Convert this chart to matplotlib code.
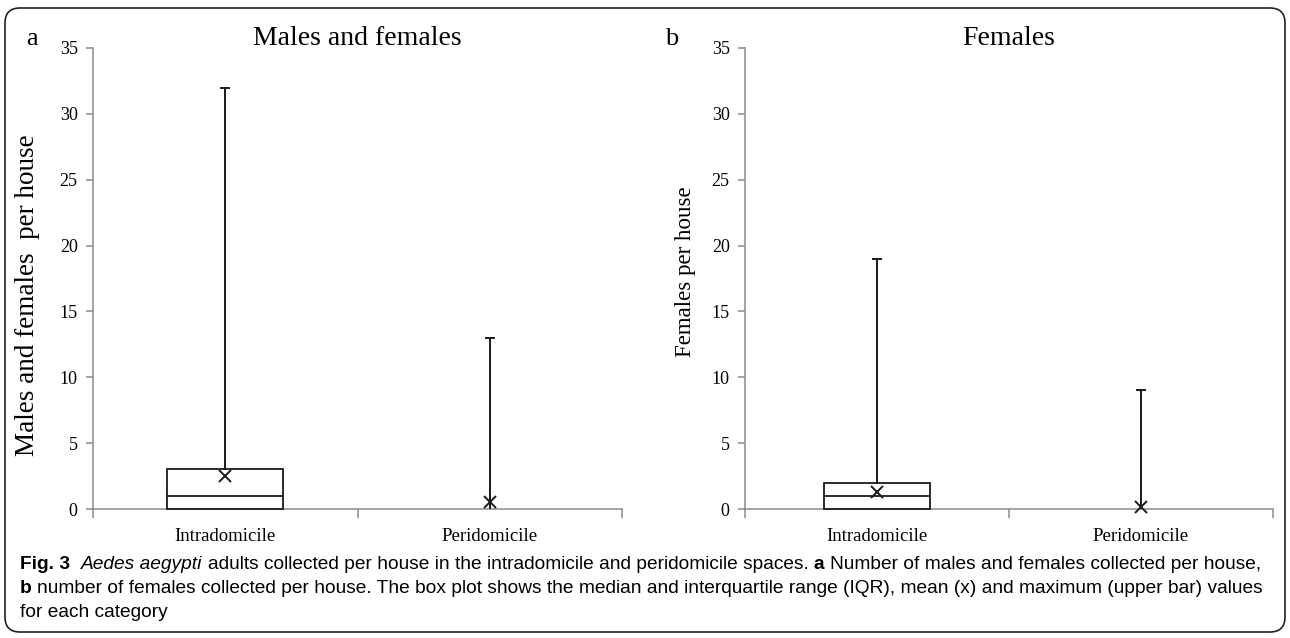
import matplotlib
matplotlib.use('Agg')
import matplotlib.pyplot as plt
from matplotlib.patches import Rectangle, FancyBboxPatch
from matplotlib import font_manager

categories = ['Intradomicile', 'Peridomicile']
yticks = [0, 5, 10, 15, 20, 25, 30, 35]

# panel a: males and females per house
a_q1 = [0, 0]
a_median = [1, 0]
a_q3 = [3, 0]
a_mean = [2.5, 0.5]
a_max = [32, 13]

# panel b: females per house
b_q1 = [0, 0]
b_median = [1, 0]
b_q3 = [2, 0]
b_mean = [1.3, 0.15]
b_max = [19, 9]

W, H = 1290, 638
serif = 'Liberation Serif'
names = {f.name for f in font_manager.fontManager.ttflist}
cap_font = 'Liberation Sans Narrow' if 'Liberation Sans Narrow' in names else 'Liberation Sans'
spine_c = '#8a8a8a'
ink = '#1a1a1a'

fig = plt.figure(figsize=(W / 100, H / 100), dpi=100)


def fx(x):
    return x / W


def fy(y):
    return 1 - y / H


def draw_panel(ax, q1, med, q3, mean, mx, box_w):
    cap = 0.016
    for i in range(len(categories)):
        if q3[i] > q1[i]:
            ax.add_patch(Rectangle((i - box_w / 2, q1[i]), box_w, q3[i] - q1[i], fill=False,
                                   ec=ink, lw=1.3, clip_on=False, zorder=3))
            ax.plot([i - box_w / 2, i + box_w / 2], [med[i], med[i]], color=ink, lw=1.3,
                    clip_on=False, zorder=3)
        ax.plot([i, i], [q3[i], mx[i]], color=ink, lw=1.4, zorder=3)
        ax.plot([i - cap, i + cap], [mx[i], mx[i]], color=ink, lw=1.4, zorder=3)
        ax.plot(i, mean[i], marker='x', ms=8, mew=1.4, color=ink, clip_on=False, zorder=4)

    ax.set_xlim(-0.5, 1.5)
    ax.set_ylim(0, 35)
    ax.set_yticks(yticks)
    ax.set_yticklabels([str(t) for t in yticks], family=serif, fontsize=13)
    ax.set_xticks([-0.5, 0.5, 1.5])
    ax.set_xticklabels([])
    ax.set_xticks([0, 1], minor=True)
    ax.set_xticklabels(categories, minor=True, family=serif, fontsize=13.5)
    ax.tick_params(axis='x', which='minor', length=0, pad=14)
    ax.tick_params(axis='x', which='major', length=6.5, width=1.1, color=spine_c)
    ax.tick_params(axis='y', length=5, width=1.1, color=spine_c, pad=6)
    for s in ['top', 'right']:
        ax.spines[s].set_visible(False)
    for s in ['left', 'bottom']:
        ax.spines[s].set_color(spine_c)
        ax.spines[s].set_linewidth(1.1)


ax_a = fig.add_axes([fx(93), fy(509), fx(622 - 93), (509 - 48) / H])
ax_b = fig.add_axes([fx(745), fy(509), fx(1273 - 745), (509 - 48) / H])

draw_panel(ax_a, a_q1, a_median, a_q3, a_mean, a_max, 0.44)
draw_panel(ax_b, b_q1, b_median, b_q3, b_mean, b_max, 0.40)

# panel letters, titles, axis labels
fig.text(fx(32), fy(45), 'a', family=serif, fontsize=19, ha='center', va='baseline')
fig.text(fx(672), fy(45), 'b', family=serif, fontsize=19, ha='center', va='baseline')
fig.text(fx(357), fy(45), 'Males and females', family=serif, fontsize=20, ha='center', va='baseline')
fig.text(fx(1009), fy(45), 'Females', family=serif, fontsize=20, ha='center', va='baseline')
fig.text(fx(28), fy(295), 'Males and females  per house', family=serif, fontsize=19.5,
         rotation=90, ha='center', va='center')
fig.text(fx(685), fy(272), 'Females per house', family=serif, fontsize=16.5,
         rotation=90, ha='center', va='center')

# caption
caption = [
    [('Fig. 3', 'bold', 'normal', 2), ('Aedes aegypti', 'normal', 'italic', 1),
     ('adults collected per house in the intradomicile and peridomicile spaces.', 'normal', 'normal', 1),
     ('a', 'bold', 'normal', 1), ('Number of males and females collected per house,', 'normal', 'normal', 0)],
    [('b', 'bold', 'normal', 1),
     ('number of females collected per house. The box plot shows the median and interquartile range (IQR), '
      'mean (x) and maximum (upper bar) values', 'normal', 'normal', 0)],
    [('for each category', 'normal', 'normal', 0)],
]
baselines = [569, 593, 617]
renderer = fig.canvas.get_renderer()


def width_of(s, size, weight='normal', style='normal'):
    t = fig.text(0, 0, s, family=cap_font, fontsize=size, weight=weight, style=style)
    w = t.get_window_extent(renderer).width
    t.remove()
    return w


def line_width(line, size):
    sp = width_of('a a', size) - width_of('aa', size)
    return sum(width_of(s, size, wt, st) + n * sp for s, wt, st, n in line)


size = 12 * (1268 - 20) / line_width(caption[0], 12)
space = width_of('a a', size) - width_of('aa', size)
for line, yb in zip(caption, baselines):
    x = 20
    for s, wt, st, n in line:
        fig.text(fx(x), fy(yb), s, family=cap_font, fontsize=size, weight=wt, style=st,
                 ha='left', va='baseline')
        x += width_of(s, size, wt, st) + n * space

# rounded frame
frame = FancyBboxPatch((0.05, 0.06), 12.8, 6.24, boxstyle='round,pad=0,rounding_size=0.15',
                       transform=fig.dpi_scale_trans, fill=False, ec='#222222', lw=1.2)
fig.patches.append(frame)

fig.savefig('out.png', dpi=100)
